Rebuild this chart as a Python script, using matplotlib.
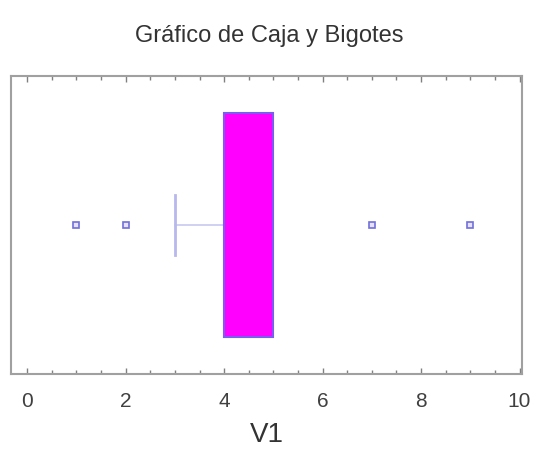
import matplotlib
matplotlib.use("Agg")
import matplotlib.pyplot as plt
from matplotlib.ticker import MultipleLocator

plt.rcParams["font.family"] = ["Liberation Sans", "DejaVu Sans"]

# data (box-plot statistics)
label = "V1"
q1 = 4.0
median = 4.5
q3 = 5.0
whisker_low = 3.0
whisker_high = 5.0
outliers = [1.0, 2.0, 7.0, 9.0]

fig = plt.figure(figsize=(5.39, 4.5), dpi=100)
ax = fig.add_axes([11/539, 1-374/450, (522-11)/539, (374-76)/450])

stats = [dict(label=label, q1=q1, med=median, q3=q3,
              whislo=whisker_low, whishi=whisker_high, fliers=outliers)]
parts = ax.bxp(stats, positions=[0], vert=False, widths=0.75, patch_artist=True,
       showcaps=True,
       boxprops=dict(facecolor="#ff00ff", edgecolor="#7a5cf0", linewidth=1.5),
       medianprops=dict(color="#ff00ff", linewidth=0),
       whiskerprops=dict(color="#c8c8f0", linewidth=1.2),
       capprops=dict(color="#b8b8ec", linewidth=2),
       capwidths=0.2,
       flierprops=dict(marker="s", markersize=4, markerfacecolor="#e8e0ff",
                       markeredgecolor="#7070d8", markeredgewidth=1.2))
# upper whisker coincides with Q3: no visible cap there
parts["caps"][1].set_visible(False)
parts["whiskers"][1].set_visible(False)
parts["boxes"][0].set_zorder(3)

ax.set_xlim(-0.33, 10.05)
ax.set_ylim(-0.5, 0.5)
ax.set_yticks([])
ax.xaxis.set_major_locator(MultipleLocator(2))
ax.xaxis.set_minor_locator(MultipleLocator(0.5))
ax.tick_params(axis="x", which="both", direction="in", top=True, bottom=True,
               colors="#808080", labelcolor="#404040", labelsize=15, pad=13)
ax.tick_params(axis="x", which="major", length=4, width=1)
ax.tick_params(axis="x", which="minor", length=3, width=1)
for s in ax.spines.values():
    s.set_color("#a0a0a0")
    s.set_linewidth(1.5)

ax.set_xlabel(label, fontsize=20, color="#333333", labelpad=8)
fig.suptitle("Gráfico de Caja y Bigotes", fontsize=17, color="#333333", y=0.945)

fig.savefig("out.png", dpi=100)
